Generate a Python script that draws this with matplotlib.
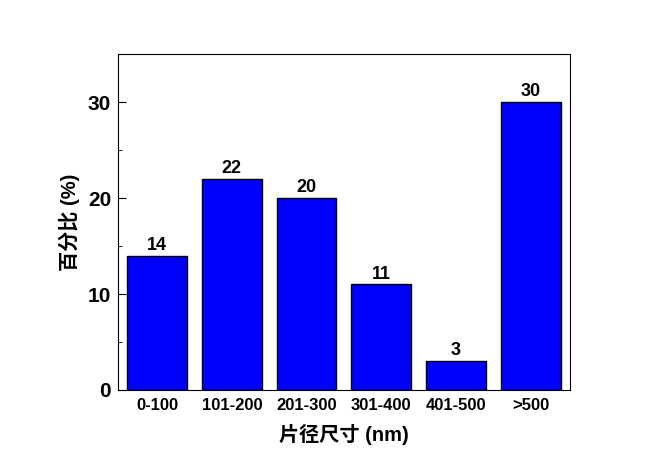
import matplotlib
matplotlib.use('Agg')
import matplotlib.pyplot as plt
from matplotlib.ticker import MultipleLocator

plt.rcParams['font.family'] = ['Liberation Sans', 'Noto Sans CJK SC']
plt.rcParams['font.weight'] = 'bold'

#Data
categories = ['0-100', '101-200', '201-300', '301-400', '401-500', '>500']
percent = [14, 22, 20, 11, 3, 30]

fig = plt.figure(figsize=(6.64, 4.71), dpi=100)
ax = fig.add_axes([0.178, 0.172, 0.68, 0.713])

x = range(len(categories))
bars = ax.bar(x, percent, width=0.8, color='#0000ff', edgecolor='black', linewidth=1)
for xi, v in zip(x, percent):
    ax.text(xi, v + 0.2, str(v), ha='center', va='bottom', fontsize=13, fontweight='bold')

ax.set_xlim(-0.52, 5.52)
ax.set_ylim(0, 35)
ax.set_xticks(list(x))
ax.set_xticklabels(categories, fontsize=12, fontweight='bold')
ax.tick_params(axis='x', length=0, pad=6)
ax.yaxis.set_major_locator(MultipleLocator(10))
ax.yaxis.set_minor_locator(MultipleLocator(5))
ax.tick_params(axis='y', which='major', direction='in', length=6, labelsize=15, pad=5)
ax.tick_params(axis='y', which='minor', direction='in', length=3)
for lab in ax.get_yticklabels():
    lab.set_fontweight('bold')

ax.set_ylabel('百分比 (%)', fontsize=14.5, fontweight='bold', labelpad=6)
ax.set_xlabel('片径尺寸 (nm)', fontsize=14.5, fontweight='bold', labelpad=8)

fig.savefig('out.png', dpi=100)
